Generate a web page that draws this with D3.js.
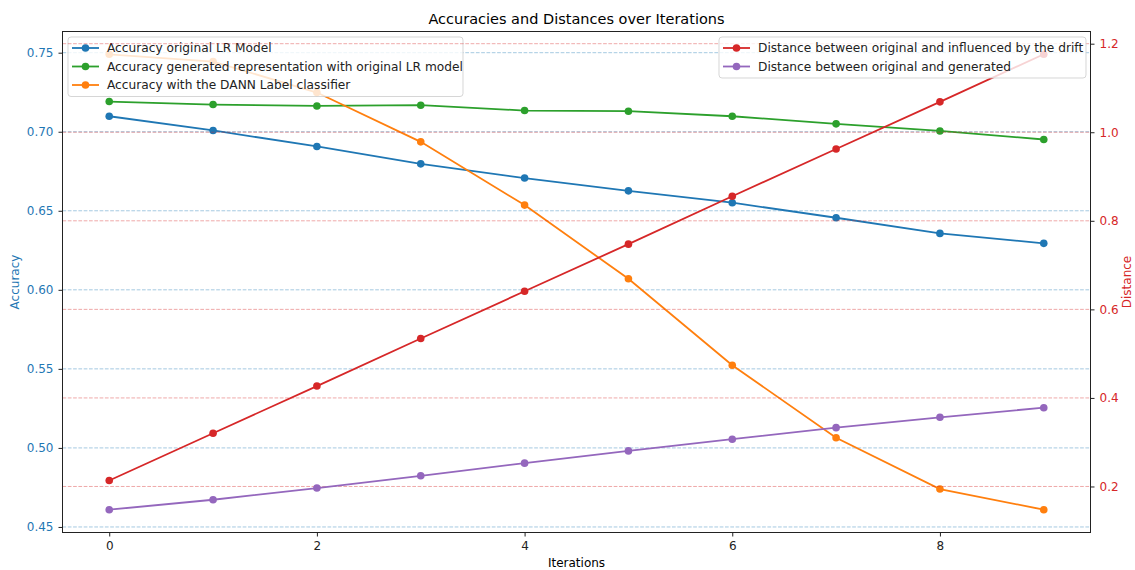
<!DOCTYPE html>
<html>
<head>
<meta charset="utf-8">
<script src="https://cdn.jsdelivr.net/npm/d3@7"></script>
<style>
    body { margin: 0; background: #fff; }
    svg { display: block; font-family: "DejaVu Sans", sans-serif; }
</style>
</head>
<body>
<svg width="1135" height="570"></svg>
<script>
// Values
let iterations = [0, 1, 2, 3, 4, 5, 6, 7, 8, 9];
let accOriginal = [0.7098, 0.7008, 0.6907, 0.6797, 0.6707, 0.6626, 0.6551, 0.6456, 0.6357, 0.6294];
let accGenerated = [0.7191, 0.7172, 0.7163, 0.7168, 0.7134, 0.7130, 0.7098, 0.7050, 0.7005, 0.6951];
let accDann = [0.7490, 0.7444, 0.7248, 0.6936, 0.6536, 0.6070, 0.5523, 0.5064, 0.4740, 0.4609];
let distDrift = [0.2135, 0.3203, 0.4268, 0.5342, 0.6408, 0.7473, 0.8554, 0.9622, 1.0687, 1.1761];
let distGenerated = [0.1475, 0.1700, 0.1964, 0.2241, 0.2527, 0.2804, 0.3068, 0.3329, 0.3563, 0.3779];

let xTicks = [0, 2, 4, 6, 8];
let leftTicks = [0.45, 0.50, 0.55, 0.60, 0.65, 0.70, 0.75];
let rightTicks = [0.2, 0.4, 0.6, 0.8, 1.0, 1.2];

let leftSeries = [
    { name: "Accuracy original LR Model", values: accOriginal, color: "#1f77b4" },
    { name: "Accuracy generated representation with original LR model", values: accGenerated, color: "#2ca02c" },
    { name: "Accuracy with the DANN Label classifier", values: accDann, color: "#ff7f0e" }
];
let rightSeries = [
    { name: "Distance between original and influenced by the drift", values: distDrift, color: "#d62728" },
    { name: "Distance between original and generated", values: distGenerated, color: "#9467bd" }
];

let svg = d3.select("svg");
let plotLeft = 62.5, plotRight = 1090.5, plotTop = 31.5, plotBottom = 532.5;
let blue = "#1f77b4", red = "#d62728";

// matplotlib-like autoscale: 5% margin around data
function padded(arrays) {
    let all = [].concat(...arrays);
    let lo = d3.min(all), hi = d3.max(all);
    let m = (hi - lo) * 0.05;
    return [lo - m, hi + m];
};

let x = d3.scaleLinear().domain([-0.45, 9.45]).range([plotLeft, plotRight]);
let yL = d3.scaleLinear().domain(padded(leftSeries.map(s => s.values))).range([plotBottom, plotTop]);
let yR = d3.scaleLinear().domain(padded(rightSeries.map(s => s.values))).range([plotBottom, plotTop]);

// Title
svg.append("text")
    .attr("x", (plotLeft + plotRight) / 2).attr("y", 24)
    .attr("text-anchor", "middle")
    .attr("font-size", 14.5)
    .text("Accuracies and Distances over Iterations");

function drawLayer(series, y, ticks, gridColor) {
    let g = svg.append("g");
    g.selectAll("line.grid").data(ticks).join("line")
        .attr("class", "grid")
        .attr("x1", plotLeft).attr("x2", plotRight)
        .attr("y1", d => y(d)).attr("y2", d => y(d))
        .attr("stroke", gridColor)
        .attr("stroke-opacity", 0.4)
        .attr("stroke-width", 1)
        .attr("stroke-dasharray", "3.7,1.6");
    let line = d3.line().x((d, i) => x(iterations[i])).y(d => y(d));
    series.forEach(s => {
        g.append("path")
            .attr("d", line(s.values))
            .attr("fill", "none")
            .attr("stroke", s.color)
            .attr("stroke-width", 1.8);
        g.selectAll(null).data(s.values).join("circle")
            .attr("cx", (d, i) => x(iterations[i]))
            .attr("cy", d => y(d))
            .attr("r", 3.8)
            .attr("fill", s.color);
    });
    return g;
};

function drawLegend(series, bx, by, bw) {
    let rowH = 18.5;
    let g = svg.append("g");
    g.append("rect")
        .attr("x", bx).attr("y", by)
        .attr("width", bw).attr("height", series.length * rowH + 4)
        .attr("rx", 3)
        .attr("fill", "#fff").attr("fill-opacity", 0.8)
        .attr("stroke", "#cccccc").attr("stroke-opacity", 0.8);
    series.forEach((s, i) => {
        let cy = by + 11 + i * rowH;
        g.append("line")
            .attr("x1", bx + 4).attr("x2", bx + 31)
            .attr("y1", cy).attr("y2", cy)
            .attr("stroke", s.color).attr("stroke-width", 1.8);
        g.append("circle")
            .attr("cx", bx + 17.5).attr("cy", cy).attr("r", 3.8)
            .attr("fill", s.color);
        g.append("text")
            .attr("x", bx + 39).attr("y", cy + 4.3)
            .attr("font-size", 12.2)
            .attr("fill", "#222")
            .text(s.name);
    });
};

// ax1 then its legend, then twin axis on top
drawLayer(leftSeries, yL, leftTicks, blue);
drawLegend(leftSeries, 68, 37, 395);
drawLayer(rightSeries, yR, rightTicks, red);
drawLegend(rightSeries, 719, 37, 367);

// Frame
svg.append("rect")
    .attr("x", plotLeft).attr("y", plotTop)
    .attr("width", plotRight - plotLeft).attr("height", plotBottom - plotTop)
    .attr("fill", "none").attr("stroke", "#222").attr("stroke-width", 1);

// Axes
let xAxis = svg.append("g")
    .attr("transform", `translate(0,${plotBottom})`)
    .call(d3.axisBottom(x).tickValues(xTicks).tickFormat(d3.format("d")).tickSizeOuter(0).tickSize(4).tickPadding(5));
let lAxis = svg.append("g")
    .attr("transform", `translate(${plotLeft},0)`)
    .call(d3.axisLeft(yL).tickValues(leftTicks).tickFormat(d3.format(".2f")).tickSizeOuter(0).tickSize(4).tickPadding(5));
let rAxis = svg.append("g")
    .attr("transform", `translate(${plotRight},0)`)
    .call(d3.axisRight(yR).tickValues(rightTicks).tickFormat(d3.format(".1f")).tickSizeOuter(0).tickSize(4).tickPadding(5));

[xAxis, lAxis, rAxis].forEach(a => {
    a.select(".domain").remove();
    a.selectAll("line").attr("stroke", "#222");
    a.selectAll("text").attr("font-size", 12).attr("font-family", "DejaVu Sans, sans-serif");
});
xAxis.selectAll("text").attr("fill", "#222");
lAxis.selectAll("text").attr("fill", blue);
rAxis.selectAll("text").attr("fill", red);

// Axis labels
svg.append("text")
    .attr("x", (plotLeft + plotRight) / 2).attr("y", 567)
    .attr("text-anchor", "middle").attr("font-size", 12)
    .text("Iterations");
svg.append("text")
    .attr("transform", `translate(19,${(plotTop + plotBottom) / 2}) rotate(-90)`)
    .attr("text-anchor", "middle").attr("font-size", 12)
    .attr("fill", blue)
    .text("Accuracy");
svg.append("text")
    .attr("transform", `translate(1131,${(plotTop + plotBottom) / 2}) rotate(-90)`)
    .attr("text-anchor", "middle").attr("font-size", 12)
    .attr("fill", red)
    .text("Distance");
</script>
</body>
</html>
